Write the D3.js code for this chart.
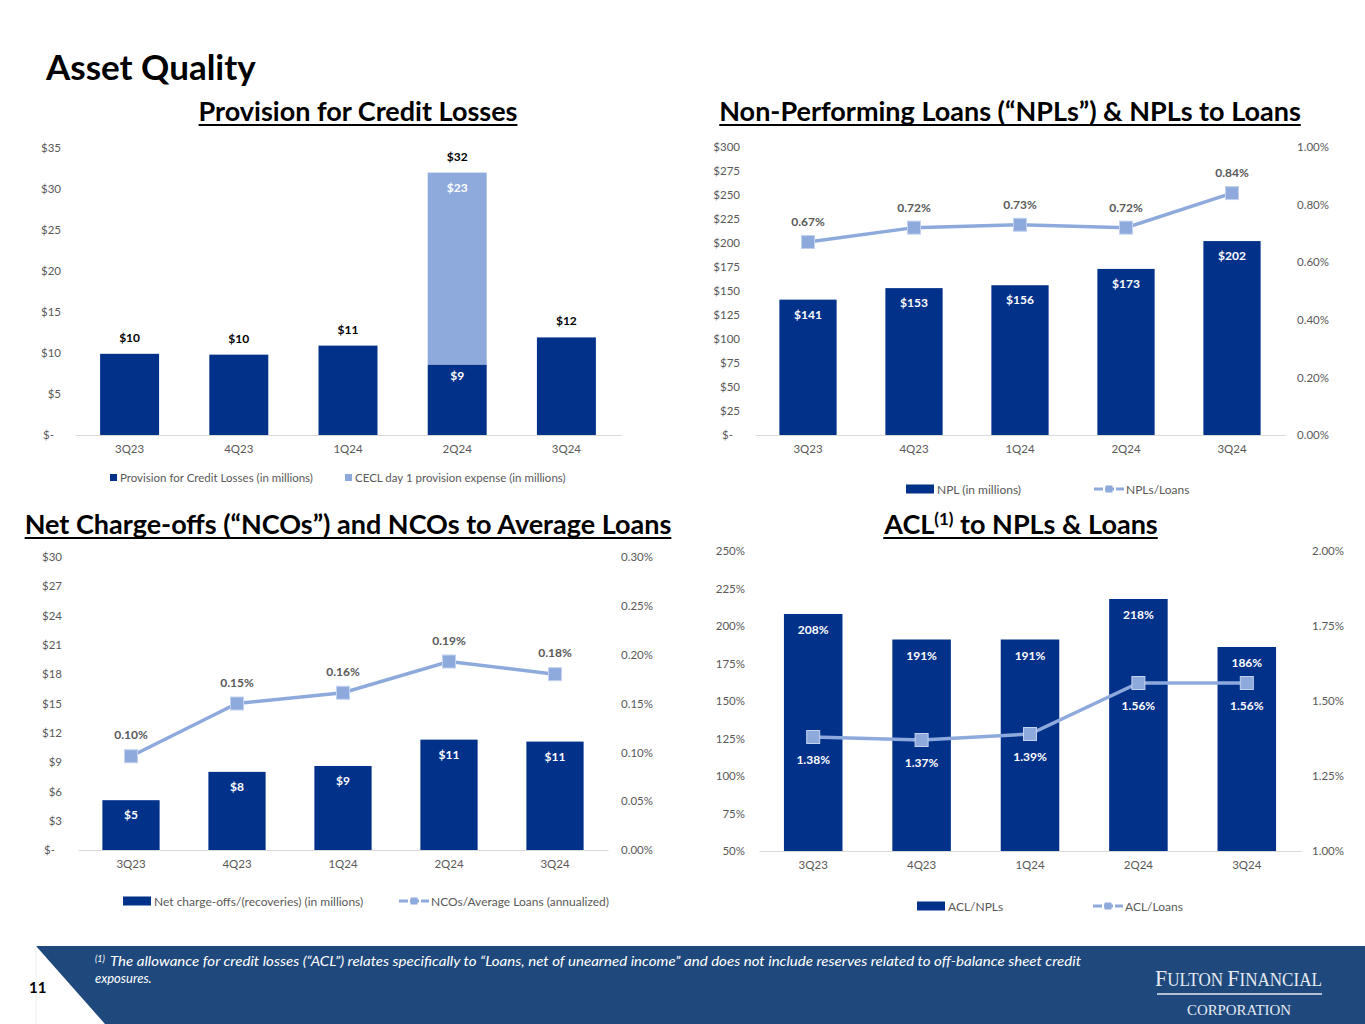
<!DOCTYPE html>
<html lang="en">
<head>
<meta charset="utf-8">
<title>Asset Quality</title>
<script src="https://cdnjs.cloudflare.com/ajax/libs/d3/7.8.5/d3.min.js"></script>
<style>
  body { margin: 0; background: #fff; }
  svg text { font-family: Lato, "Open Sans", sans-serif; }
  svg text.serif { font-family: "Liberation Serif", "DejaVu Serif", serif; }
</style>
</head>
<body>
<script>
// data
var quarters = ['3Q23', '4Q23', '1Q24', '2Q24', '3Q24'];

var provision = [9.9, 9.8, 10.9, 8.6, 11.9];
var ceclDay1 = [0, 0, 0, 23.4, 0];
var provisionTicks = [0, 5, 10, 15, 20, 25, 30, 35];

var npl = [141, 153, 156, 173, 202];
var nplToLoans = [0.67, 0.72, 0.73, 0.72, 0.84];
var nplTicks = [0, 25, 50, 75, 100, 125, 150, 175, 200, 225, 250, 275, 300];
var nplRatioTicks = [0, 0.2, 0.4, 0.6, 0.8, 1.0];

var nco = [5.1, 8.0, 8.6, 11.3, 11.1];
var ncoToLoans = [0.096, 0.150, 0.161, 0.193, 0.180];
var ncoTicks = [0, 3, 6, 9, 12, 15, 18, 21, 24, 27, 30];
var ncoRatioTicks = [0, 0.05, 0.10, 0.15, 0.20, 0.25, 0.30];

var aclToNpl = [208, 191, 191, 218, 186];
var aclToLoans = [1.38, 1.37, 1.39, 1.56, 1.56];
var aclTicks = [50, 75, 100, 125, 150, 175, 200, 225, 250];
var aclRatioTicks = [1.00, 1.25, 1.50, 1.75, 2.00];

var navy = '#02318a';
var light = '#8eaadc';
var tickGrey = '#595959';

var w = 1365, h = 1024;

var svg = d3.select('body').append('svg')
  .attr('width', w)
  .attr('height', h);

// page title
svg.append('text')
  .attr('x', 46).attr('y', 80)
  .attr('font-size', 35).attr('font-weight', 700)
  .attr('fill', '#000')
  .text('Asset Quality');

// underlined chart titles
function title(cx, y, parts) {
  var t = svg.append('text')
    .attr('x', cx).attr('y', y)
    .attr('text-anchor', 'middle')
    .attr('font-size', 27).attr('font-weight', 700)
    .attr('fill', '#000');
  parts.forEach(function(p) {
    var s = t.append('tspan').text(p.t);
    if (p.sup) s.attr('font-size', 17).attr('baseline-shift', '55%');
  });
  var b = t.node().getBBox();
  svg.append('line')
    .attr('x1', b.x).attr('x2', b.x + b.width)
    .attr('y1', y + 4).attr('y2', y + 4)
    .attr('stroke', '#000').attr('stroke-width', 2);
}

title(358, 121, [{t: 'Provision for Credit Losses'}]);
title(1010, 121, [{t: 'Non-Performing Loans (\u201CNPLs\u201D) & NPLs to Loans'}]);
title(348, 534, [{t: 'Net Charge-offs (\u201CNCOs\u201D) and NCOs to Average Loans'}]);
title(1021, 534, [{t: 'ACL'}, {t: '(1)', sup: true}, {t: ' to NPLs & Loans'}]);

// shared axis helpers
function styleAxisText(a, anchor) {
  a.attr('font-size', null).attr('font-family', null);
  a.selectAll('text')
    .attr('font-size', 11.5)
    .attr('fill', tickGrey)
    .attr('text-anchor', anchor);
}

function panel(o) {
  var g = svg.append('g');
  var x = d3.scaleBand().domain(quarters).range(o.xRange)
    .paddingInner(0.46).paddingOuter(0.23);
  var y = d3.scaleLinear().domain(o.yDomain).range(o.yRange);
  var cx = function(i) { return x(quarters[i]) + x.bandwidth() / 2; };

  // left axis
  g.append('g')
    .attr('transform', 'translate(' + o.leftX + ',0)')
    .call(d3.axisLeft(y).tickValues(o.leftTicks).tickSize(0).tickPadding(0).tickFormat(o.leftFormat))
    .call(function(a) {
      a.select('.domain').remove();
      styleAxisText(a, 'end');
      a.selectAll('.tick').filter(function(d) { return d === 0; })
        .select('text').attr('dx', -7);
    });

  // right axis
  var yR = null;
  if (o.rightDomain) {
    yR = d3.scaleLinear().domain(o.rightDomain).range(o.yRange);
    g.append('g')
      .attr('transform', 'translate(' + o.rightX + ',0)')
      .call(d3.axisRight(yR).tickValues(o.rightTicks).tickSize(0).tickPadding(0)
        .tickFormat(function(d) { return d.toFixed(2) + '%'; }))
      .call(function(a) {
        a.select('.domain').remove();
        styleAxisText(a, 'start');
      });
  }

  // bars
  o.stacks.forEach(function(s) {
    g.append('g').selectAll('rect')
      .data(s.values)
      .join('rect')
      .attr('x', function(d, i) { return x(quarters[i]); })
      .attr('width', x.bandwidth())
      .attr('y', function(d, i) { return y(d + s.base[i]); })
      .attr('height', function(d, i) { return y(s.base[i]) - y(d + s.base[i]); })
      .attr('fill', s.color);
  });

  // x axis
  g.append('g')
    .attr('transform', 'translate(0,' + o.yRange[0] + ')')
    .call(d3.axisBottom(x).tickSize(0).tickSizeOuter(0).tickPadding(10))
    .call(function(a) {
      a.select('.domain').attr('stroke', '#d9d9d9').attr('stroke-width', 1.2);
      styleAxisText(a, 'middle');
    });

  // bar labels (data = quarter indexes that carry a label)
  o.barLabels.forEach(function(l) {
    g.append('g').selectAll('text')
      .data(d3.range(quarters.length).filter(l.show))
      .join('text')
      .attr('x', function(i) { return cx(i); })
      .attr('y', function(i) { return l.y(i, y); })
      .attr('text-anchor', 'middle')
      .attr('font-size', 12).attr('font-weight', 700)
      .attr('fill', l.color)
      .text(l.text);
  });

  // ratio line
  if (o.line) {
    var line = d3.line()
      .x(function(d, i) { return cx(i); })
      .y(function(d) { return yR(d); });
    g.append('path')
      .datum(o.line)
      .attr('d', line)
      .attr('fill', 'none')
      .attr('stroke', light)
      .attr('stroke-width', 3.5);
    g.append('g').selectAll('rect')
      .data(o.line)
      .join('rect')
      .attr('x', function(d, i) { return cx(i) - 6.5; })
      .attr('y', function(d) { return yR(d) - 6.5; })
      .attr('width', 13).attr('height', 13)
      .attr('fill', light)
      .attr('stroke', '#c3d2ee').attr('stroke-width', 1);
    g.append('g').selectAll('text')
      .data(o.line)
      .join('text')
      .attr('x', function(d, i) { return cx(i); })
      .attr('y', function(d) { return yR(d) + o.lineLabelDy; })
      .attr('text-anchor', 'middle')
      .attr('font-size', 12).attr('font-weight', 700)
      .attr('fill', o.lineLabelColor)
      .text(function(d) { return d.toFixed(2) + '%'; });
  }

  // legend
  o.legend.forEach(function(l) {
    if (l.type === 'square') {
      g.append('rect').attr('x', l.x).attr('y', o.legendY - 4)
        .attr('width', 7).attr('height', 7).attr('fill', l.color);
      g.append('text').attr('x', l.x + 10).attr('y', o.legendY + 4)
        .attr('font-size', 11.5).attr('fill', tickGrey).text(l.text);
    } else if (l.type === 'bar') {
      g.append('rect').attr('x', l.x).attr('y', o.legendY - 4.5)
        .attr('width', 28).attr('height', 9).attr('fill', l.color);
      g.append('text').attr('x', l.x + 31).attr('y', o.legendY + 4.5)
        .attr('font-size', 12).attr('fill', tickGrey).text(l.text);
    } else {
      g.append('line').attr('x1', l.x).attr('x2', l.x + 30)
        .attr('y1', o.legendY).attr('y2', o.legendY)
        .attr('stroke', light).attr('stroke-width', 3)
        .attr('stroke-dasharray', '9,2');
      g.append('rect').attr('x', l.x + 11.5).attr('y', o.legendY - 3.5)
        .attr('width', 7).attr('height', 7).attr('fill', light);
      g.append('text').attr('x', l.x + 32).attr('y', o.legendY + 4.5)
        .attr('font-size', 12).attr('fill', tickGrey).text(l.text);
    }
  });
}

var dollar = function(d) { return d === 0 ? '$-' : '$' + d; };
var zeros = [0, 0, 0, 0, 0];
var all = function() { return true; };

// Provision for Credit Losses
panel({
  xRange: [75, 621], yDomain: [0, 35], yRange: [435, 148],
  leftX: 61, leftTicks: provisionTicks, leftFormat: dollar,
  stacks: [
    {values: provision, base: zeros, color: navy},
    {values: ceclDay1, base: provision, color: light}
  ],
  barLabels: [
    {color: '#000', show: all,
      y: function(i, y) { return y(provision[i] + ceclDay1[i]) - 12; },
      text: function(i) { return '$' + Math.round(provision[i] + ceclDay1[i]); }},
    {color: '#fff', show: function(i) { return ceclDay1[i] > 0; },
      y: function(i, y) { return y(provision[i]) + 16; },
      text: function(i) { return '$' + Math.round(provision[i]); }},
    {color: '#fff', show: function(i) { return ceclDay1[i] > 0; },
      y: function(i, y) { return y(provision[i] + ceclDay1[i]) + 19; },
      text: function(i) { return '$' + Math.round(ceclDay1[i]); }}
  ],
  legendY: 478,
  legend: [
    {type: 'square', x: 110, color: navy, text: 'Provision for Credit Losses (in millions)'},
    {type: 'square', x: 345, color: light, text: 'CECL day 1 provision expense (in millions)'}
  ]
});

// NPLs
panel({
  xRange: [755, 1285], yDomain: [0, 300], yRange: [435, 147],
  leftX: 740, leftTicks: nplTicks, leftFormat: dollar,
  rightDomain: [0, 1], rightX: 1297, rightTicks: nplRatioTicks,
  stacks: [{values: npl, base: zeros, color: navy}],
  barLabels: [
    {color: '#fff', show: all,
      y: function(i, y) { return y(npl[i]) + 19; },
      text: function(i) { return '$' + npl[i]; }}
  ],
  line: nplToLoans, lineLabelDy: -16, lineLabelColor: tickGrey,
  legendY: 489,
  legend: [
    {type: 'bar', x: 906, color: navy, text: 'NPL (in millions)'},
    {type: 'line', x: 1094, text: 'NPLs/Loans'}
  ]
});

// NCOs
panel({
  xRange: [78, 608], yDomain: [0, 30], yRange: [850, 557],
  leftX: 62, leftTicks: ncoTicks, leftFormat: dollar,
  rightDomain: [0, 0.3], rightX: 621, rightTicks: ncoRatioTicks,
  stacks: [{values: nco, base: zeros, color: navy}],
  barLabels: [
    {color: '#fff', show: all,
      y: function(i, y) { return y(nco[i]) + 19; },
      text: function(i) { return '$' + Math.round(nco[i]); }}
  ],
  line: ncoToLoans, lineLabelDy: -17, lineLabelColor: tickGrey,
  legendY: 901,
  legend: [
    {type: 'bar', x: 123, color: navy, text: 'Net charge-offs/(recoveries) (in millions)'},
    {type: 'line', x: 399, text: 'NCOs/Average Loans (annualized)'}
  ]
});

// ACL
panel({
  xRange: [759, 1301], yDomain: [50, 250], yRange: [851, 551],
  leftX: 745, leftTicks: aclTicks, leftFormat: function(d) { return d + '%'; },
  rightDomain: [1, 2], rightX: 1312, rightTicks: aclRatioTicks,
  stacks: [{values: aclToNpl.map(function(d) { return d - 50; }), base: [50, 50, 50, 50, 50], color: navy}],
  barLabels: [
    {color: '#fff', show: all,
      y: function(i, y) { return y(aclToNpl[i]) + 20; },
      text: function(i) { return aclToNpl[i] + '%'; }}
  ],
  line: aclToLoans, lineLabelDy: 27, lineLabelColor: '#fff',
  legendY: 906,
  legend: [
    {type: 'bar', x: 917, color: navy, text: 'ACL/NPLs'},
    {type: 'line', x: 1093, text: 'ACL/Loans'}
  ]
});

// footer band
svg.append('polygon')
  .attr('points', '36,946 1365,946 1365,1024 105,1024')
  .attr('fill', '#1f497d');
svg.append('line')
  .attr('x1', 36).attr('x2', 36).attr('y1', 946).attr('y2', 1024)
  .attr('stroke', '#ececec');
svg.append('text')
  .attr('x', 29).attr('y', 993)
  .attr('font-size', 15).attr('font-weight', 700).attr('fill', '#000')
  .text('11');

svg.append('text')
  .attr('x', 95).attr('y', 962)
  .attr('font-size', 9).attr('font-style', 'italic').attr('fill', '#fff')
  .text('(1)');
svg.append('text')
  .attr('x', 110).attr('y', 966)
  .attr('font-size', 13).attr('font-style', 'italic').attr('fill', '#fff')
  .attr('textLength', 971).attr('lengthAdjust', 'spacingAndGlyphs')
  .text('The allowance for credit losses (\u201CACL\u201D) relates specifically to \u201CLoans, net of unearned income\u201D and does not include reserves related to off-balance sheet credit');
svg.append('text')
  .attr('x', 95).attr('y', 983)
  .attr('font-size', 13).attr('font-style', 'italic').attr('fill', '#fff')
  .text('exposures.');

// logo: small caps squeezed horizontally to the wordmark width
var logo = svg.append('text')
  .attr('class', 'serif')
  .attr('x', 0).attr('y', 0)
  .attr('fill', '#e6e9f2');
logo.append('tspan').attr('font-size', 23).text('F');
logo.append('tspan').attr('font-size', 18).text('ULTON ');
logo.append('tspan').attr('font-size', 23).text('F');
logo.append('tspan').attr('font-size', 18).text('INANCIAL');
var logoLen = logo.node().getComputedTextLength();
logo.attr('transform', 'translate(1155,986) scale(' + (167 / logoLen) + ',1)');

svg.append('line')
  .attr('x1', 1157).attr('x2', 1322).attr('y1', 994).attr('y2', 994)
  .attr('stroke', '#e6e9f2').attr('stroke-width', 1.5);
svg.append('text')
  .attr('class', 'serif')
  .attr('x', 1239).attr('y', 1015)
  .attr('text-anchor', 'middle')
  .attr('font-size', 14).attr('fill', '#e6e9f2')
  .attr('textLength', 104).attr('lengthAdjust', 'spacingAndGlyphs')
  .text('CORPORATION');
</script>
</body>
</html>
